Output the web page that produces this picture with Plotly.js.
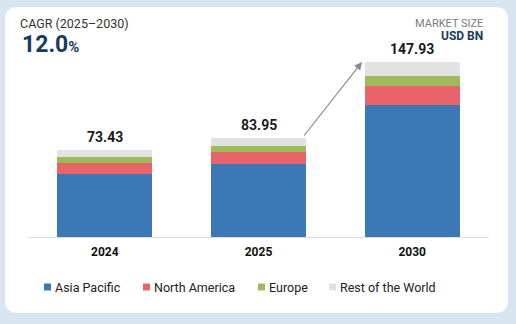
<!DOCTYPE html>
<html>
<head>
<meta charset="utf-8">
<script src="https://cdn.plot.ly/plotly-3.0.1.min.js"></script>
<style>html,body{margin:0;padding:0;background:#d8e5f1;}#chart{width:516px;height:324px;}</style>
</head>
<body>
<div id="chart"></div>
<script>
// ---- data ----
const years = ["2024", "2025", "2030"];
const regions = ["Asia Pacific", "North America", "Europe", "Rest of the World"];
const asiaPacific   = [53.6, 61.5, 111.5];
const northAmerica  = [9.0, 10.1, 16.1];
const europe        = [5.1, 5.6, 8.7];
const restOfWorld   = [5.73, 6.75, 11.63];
const totals = [73.43, 83.95, 147.93];
const totalLabels = ["73.43", "83.95", "147.93"];
const cagrLabel = "CAGR (2025–2030)";
const cagrValue = "12.0";
const unitTop = "MARKET SIZE";
const unitBottom = "USD BN";

// ---- styles ----
const colors = ["#3b78b5", "#e9636b", "#9dbb5a", "#e2e2e2"];
const series = [asiaPacific, northAmerica, europe, restOfWorld];
const W = 516, H = 324;
const M = {l: 28, r: 27, t: 40, b: 87};
const pw = W - M.l - M.r, ph = H - M.t - M.b;
const px = x => (x - M.l) / pw;
const py = y => (H - M.b - y) / ph;
const FONT = "Roboto, 'Liberation Sans', sans-serif";

const traces = series.map((vals, i) => ({
  type: "bar",
  x: years,
  y: vals,
  name: regions[i],
  marker: {color: colors[i], line: {width: 0}},
  showlegend: false,
  hoverinfo: "x+y+name"
}));

const annotations = [];
// totals
years.forEach((yr, i) => {
  annotations.push({
    x: i, y: totals[i], xref: "x", yref: "y",
    text: "<b>" + totalLabels[i] + "</b>", showarrow: false,
    yanchor: "bottom", yshift: 3,
    font: {family: FONT, size: 14, color: "#1a1a1a"}
  });
});
// header
annotations.push({xref: "paper", yref: "paper", x: px(19), y: py(23), xanchor: "left", yanchor: "middle",
  text: cagrLabel, showarrow: false, borderpad: 0, font: {family: FONT, size: 12.5, color: "#333"}});
annotations.push({xref: "paper", yref: "paper", x: px(21), y: py(45), xanchor: "left", yanchor: "middle",
  text: "<b>" + cagrValue + "</b><span style='font-size:15px'><b>%</b></span>", showarrow: false, borderpad: 0,
  font: {family: FONT, size: 23, color: "#1b3a5c"}});
annotations.push({xref: "paper", yref: "paper", x: px(484), y: py(24), xanchor: "right", yanchor: "middle",
  text: unitTop, showarrow: false, borderpad: 0, font: {family: FONT, size: 11, color: "#7a7a7a"}});
annotations.push({xref: "paper", yref: "paper", x: px(484), y: py(36), xanchor: "right", yanchor: "middle",
  text: "<b>" + unitBottom + "</b>", showarrow: false, borderpad: 0, font: {family: FONT, size: 12, color: "#1b3a5c"}});
// arrow
annotations.push({xref: "paper", yref: "paper", x: px(362), y: py(62), axref: "pixel", ayref: "pixel",
  ax: -59, ay: 75, showarrow: true, arrowhead: 2, arrowsize: 1.3, arrowwidth: 1.2, arrowcolor: "#8a8a8a", text: ""});

// custom legend
const legendX = [44, 143, 258, 329];
const shapes = [];
// card
(function(){
  const x0 = 5, x1 = 508, y0 = 7, y1 = 313, r = 13;
  const X = v => px(v), Y = v => py(v);
  const path = `M ${X(x0 + r)},${Y(y0)} L ${X(x1 - r)},${Y(y0)} Q ${X(x1)},${Y(y0)} ${X(x1)},${Y(y0 + r)} ` +
    `L ${X(x1)},${Y(y1 - r)} Q ${X(x1)},${Y(y1)} ${X(x1 - r)},${Y(y1)} L ${X(x0 + r)},${Y(y1)} ` +
    `Q ${X(x0)},${Y(y1)} ${X(x0)},${Y(y1 - r)} L ${X(x0)},${Y(y0 + r)} Q ${X(x0)},${Y(y0)} ${X(x0 + r)},${Y(y0)} Z`;
  shapes.push({type: "path", xref: "paper", yref: "paper", path: path, fillcolor: "#ffffff",
    line: {width: 0}, layer: "below"});
})();
regions.forEach((name, i) => {
  const lx = legendX[i];
  shapes.push({type: "rect", xref: "paper", yref: "paper", x0: px(lx), x1: px(lx + 7),
    y0: py(290.5), y1: py(283.5), fillcolor: colors[i], line: {width: 0}});
  annotations.push({xref: "paper", yref: "paper", x: px(lx + 9), y: py(287), xanchor: "left", yanchor: "middle",
    text: name, showarrow: false, font: {family: FONT, size: 12.5, color: "#222"}});
});

const layout = {
  width: W, height: H,
  margin: M,
  paper_bgcolor: "#d8e5f1",
  plot_bgcolor: "rgba(0,0,0,0)",
  barmode: "stack",
  bargap: 0.382,
  showlegend: false,
  xaxis: {
    type: "category", range: [-0.5, 2.5], showgrid: false, zeroline: false,
    showline: true, linecolor: "#dcdcdc", linewidth: 1,
    ticks: "", tickfont: {family: FONT, size: 12, color: "#111", weight: 700},
    ticklabelstandoff: 4, fixedrange: true
  },
  yaxis: {
    range: [0, 166.5], showgrid: false, zeroline: false, showline: false,
    showticklabels: false, ticks: "", fixedrange: true
  },
  annotations: annotations,
  shapes: shapes,
  font: {family: FONT}
};

Plotly.newPlot("chart", traces, layout, {displayModeBar: false, staticPlot: true});
</script>
</body>
</html>
